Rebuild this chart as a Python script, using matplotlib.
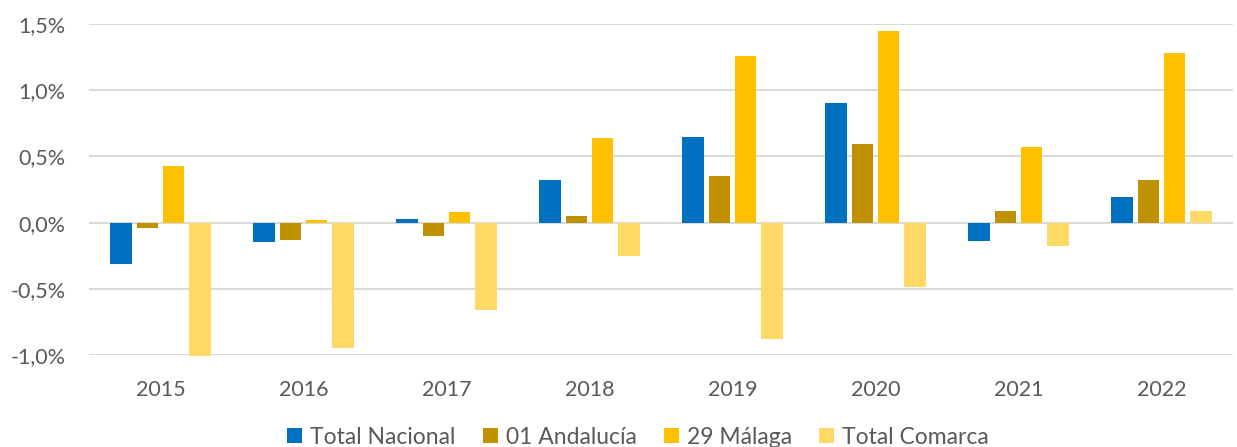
import matplotlib
matplotlib.use("Agg")
import matplotlib.pyplot as plt
import numpy as np

years = ["2015", "2016", "2017", "2018", "2019", "2020", "2021", "2022"]
series_names = ["Total Nacional", "01 Andalucía", "29 Málaga", "Total Comarca"]
total_nacional = [-0.31, -0.15, 0.03, 0.32, 0.65, 0.90, -0.14, 0.19]
andalucia = [-0.04, -0.13, -0.10, 0.05, 0.35, 0.59, 0.09, 0.32]
malaga = [0.43, 0.02, 0.08, 0.64, 1.26, 1.45, 0.57, 1.28]
total_comarca = [-1.01, -0.95, -0.66, -0.25, -0.88, -0.49, -0.18, 0.09]
yticks = [-1.0, -0.5, 0.0, 0.5, 1.0, 1.5]

colors = ["#0070C0", "#BF9000", "#FFC000", "#FFD966"]
plt.rcParams['font.family'] = ['Lato', 'DejaVu Sans']
txt = "#595959"

fig = plt.figure(figsize=(12.37, 4.47), dpi=100)
ax = fig.add_axes([89/1237, 1-355/447, (1233-89)/1237, (355-24)/447])

x = np.arange(len(years))
step = 0.184
width = 0.150
data = [total_nacional, andalucia, malaga, total_comarca]
for i, (vals, c, name) in enumerate(zip(data, colors, series_names)):
    ax.bar(x + (i - 1.5) * step, vals, width=width, color=c, edgecolor="none",
           linewidth=0, label=name, zorder=3, clip_on=False)

ax.set_xlim(-0.5, len(years) - 0.5)
ax.set_ylim(-1.0, 1.5)
ax.set_yticks(yticks)
ax.set_yticklabels([("%.1f%%" % v).replace(".", ",") for v in yticks])
ax.set_xticks(x)
ax.set_xticklabels(years)
ax.tick_params(axis="both", length=0, labelsize=15.5, colors=txt)
ax.tick_params(axis="y", pad=17)
ax.tick_params(axis="x", pad=18)
ax.grid(axis="y", color="#D9D9D9", linewidth=1.4, zorder=0)
for s in ax.spines.values():
    s.set_visible(False)

leg = fig.legend(loc="center", bbox_to_anchor=(638/1237, 1-437/447), ncol=4,
                 frameon=False, fontsize=16.5, handlelength=0.65, handleheight=0.65,
                 handletextpad=0.35, columnspacing=1.2, labelcolor=txt)
for h in leg.legend_handles:
    h.set_edgecolor("none")

fig.savefig("out.png", dpi=100)
